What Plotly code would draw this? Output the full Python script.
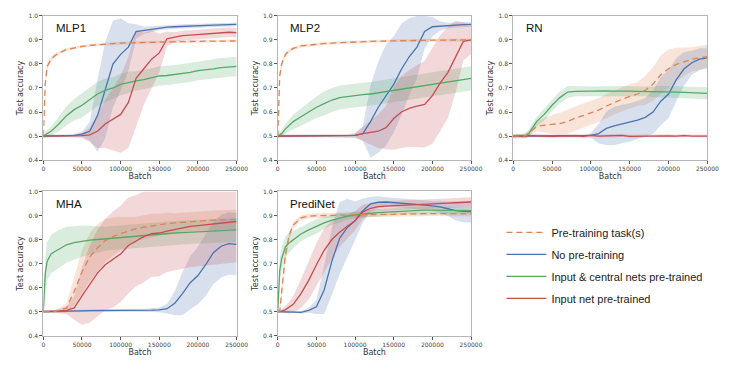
import plotly.graph_objects as go

# ---------------- data ----------------
batch = [0, 2500, 5000, 10000, 15000, 20000, 30000, 40000, 50000, 60000, 70000, 80000, 90000,
         100000, 110000, 120000, 130000, 140000, 150000, 160000, 170000, 180000, 190000, 200000,
         210000, 220000, 230000, 240000, 250000]

series_names = ["Pre-training task(s)", "No pre-training", "Input & central nets pre-trained", "Input net pre-trained"]
panel_names = ["MLP1", "MLP2", "RN", "MHA", "PrediNet"]
x_ticks = [0, 50000, 100000, 150000, 200000, 250000]
y_ticks = [0.4, 0.5, 0.6, 0.7, 0.8, 0.9, 1.0]

# MLP1
mlp1_pre = [0.50, 0.72, 0.79, 0.82, 0.835, 0.845, 0.86, 0.867, 0.873, 0.877, 0.88, 0.883, 0.885, 0.887, 0.888, 0.889, 0.89, 0.891, 0.892, 0.893, 0.893, 0.894, 0.894, 0.895, 0.895, 0.895, 0.896, 0.896, 0.896]
mlp1_pre_sd = [0.005, 0.02, 0.015, 0.01, 0.008, 0.007, 0.006, 0.006, 0.006, 0.006, 0.006, 0.006, 0.006, 0.006, 0.006, 0.006, 0.006, 0.006, 0.006, 0.006, 0.006, 0.006, 0.006, 0.006, 0.006, 0.006, 0.006, 0.006, 0.006]
mlp1_none = [0.50, 0.50, 0.50, 0.50, 0.50, 0.50, 0.50, 0.503, 0.508, 0.52, 0.585, 0.69, 0.80, 0.84, 0.87, 0.935, 0.94, 0.945, 0.95, 0.953, 0.955, 0.957, 0.958, 0.96, 0.961, 0.962, 0.963, 0.964, 0.965]
mlp1_none_sd = [0.005, 0.005, 0.005, 0.005, 0.005, 0.005, 0.005, 0.007, 0.01, 0.04, 0.15, 0.2, 0.18, 0.15, 0.1, 0.03, 0.015, 0.012, 0.01, 0.01, 0.008, 0.008, 0.008, 0.008, 0.008, 0.008, 0.008, 0.008, 0.008]
mlp1_central = [0.50, 0.505, 0.51, 0.52, 0.535, 0.55, 0.585, 0.61, 0.628, 0.65, 0.675, 0.69, 0.70, 0.715, 0.723, 0.73, 0.735, 0.742, 0.75, 0.752, 0.756, 0.76, 0.765, 0.772, 0.775, 0.78, 0.785, 0.787, 0.79]
mlp1_central_sd = [0.01, 0.012, 0.015, 0.02, 0.025, 0.03, 0.04, 0.045, 0.05, 0.05, 0.05, 0.05, 0.045, 0.045, 0.045, 0.04, 0.04, 0.04, 0.04, 0.04, 0.04, 0.04, 0.04, 0.04, 0.04, 0.04, 0.04, 0.04, 0.04]
mlp1_input = [0.50, 0.50, 0.50, 0.50, 0.50, 0.50, 0.50, 0.50, 0.502, 0.505, 0.52, 0.55, 0.57, 0.59, 0.64, 0.74, 0.78, 0.82, 0.846, 0.905, 0.912, 0.918, 0.92, 0.922, 0.925, 0.928, 0.93, 0.932, 0.93]
mlp1_input_sd = [0.005, 0.005, 0.005, 0.005, 0.005, 0.005, 0.005, 0.005, 0.01, 0.03, 0.07, 0.1, 0.13, 0.16, 0.19, 0.2, 0.15, 0.12, 0.08, 0.03, 0.02, 0.02, 0.02, 0.02, 0.02, 0.02, 0.02, 0.02, 0.02]

# MLP2
mlp2_pre = [0.50, 0.75, 0.80, 0.84, 0.855, 0.865, 0.875, 0.879, 0.882, 0.885, 0.887, 0.889, 0.89, 0.892, 0.893, 0.894, 0.895, 0.896, 0.897, 0.897, 0.898, 0.898, 0.899, 0.899, 0.899, 0.9, 0.9, 0.9, 0.9]
mlp2_pre_sd = [0.005, 0.02, 0.015, 0.01, 0.008, 0.007, 0.006, 0.006, 0.006, 0.006, 0.006, 0.006, 0.006, 0.006, 0.006, 0.006, 0.006, 0.006, 0.006, 0.006, 0.006, 0.006, 0.006, 0.006, 0.006, 0.006, 0.006, 0.006, 0.006]
mlp2_none = [0.50, 0.50, 0.50, 0.50, 0.50, 0.50, 0.50, 0.50, 0.50, 0.50, 0.50, 0.50, 0.50, 0.503, 0.51, 0.56, 0.62, 0.67, 0.715, 0.778, 0.83, 0.87, 0.935, 0.955, 0.958, 0.96, 0.962, 0.964, 0.965]
mlp2_none_sd = [0.005, 0.005, 0.005, 0.005, 0.005, 0.005, 0.005, 0.005, 0.005, 0.005, 0.005, 0.005, 0.005, 0.008, 0.03, 0.15, 0.19, 0.21, 0.2, 0.19, 0.16, 0.13, 0.07, 0.04, 0.02, 0.012, 0.01, 0.01, 0.01]
mlp2_central = [0.50, 0.505, 0.51, 0.53, 0.545, 0.56, 0.58, 0.60, 0.62, 0.635, 0.65, 0.66, 0.665, 0.67, 0.672, 0.675, 0.68, 0.685, 0.69, 0.695, 0.70, 0.705, 0.71, 0.715, 0.72, 0.725, 0.73, 0.735, 0.74]
mlp2_central_sd = [0.01, 0.012, 0.015, 0.02, 0.025, 0.03, 0.035, 0.04, 0.045, 0.05, 0.05, 0.05, 0.05, 0.05, 0.05, 0.05, 0.05, 0.05, 0.05, 0.05, 0.05, 0.05, 0.05, 0.05, 0.05, 0.05, 0.05, 0.05, 0.05]
mlp2_input = [0.50, 0.50, 0.50, 0.50, 0.50, 0.50, 0.50, 0.50, 0.50, 0.50, 0.50, 0.50, 0.50, 0.503, 0.51, 0.515, 0.52, 0.535, 0.573, 0.6, 0.615, 0.625, 0.632, 0.668, 0.72, 0.764, 0.83, 0.894, 0.9]
mlp2_input_sd = [0.005, 0.005, 0.005, 0.005, 0.005, 0.005, 0.005, 0.005, 0.005, 0.005, 0.005, 0.005, 0.007, 0.01, 0.03, 0.05, 0.07, 0.09, 0.13, 0.15, 0.16, 0.17, 0.18, 0.2, 0.2, 0.19, 0.15, 0.08, 0.06]

# RN
rn_pre = [0.5, 0.5, 0.5, 0.5, 0.5, 0.51, 0.54, 0.545, 0.548, 0.552, 0.56, 0.575, 0.585, 0.597, 0.608, 0.625, 0.64, 0.653, 0.665, 0.675, 0.69, 0.716, 0.755, 0.78, 0.798, 0.81, 0.82, 0.826, 0.83]
rn_pre_sd = [0.005, 0.005, 0.005, 0.005, 0.008, 0.01, 0.02, 0.03, 0.04, 0.045, 0.05, 0.05, 0.05, 0.05, 0.05, 0.05, 0.05, 0.05, 0.05, 0.05, 0.06, 0.07, 0.08, 0.08, 0.07, 0.06, 0.05, 0.05, 0.05]
rn_none = [0.5, 0.5, 0.5, 0.5, 0.5, 0.5, 0.5, 0.5, 0.5, 0.5, 0.5, 0.5, 0.5, 0.503, 0.51, 0.532, 0.542, 0.55, 0.556, 0.566, 0.578, 0.6, 0.645, 0.675, 0.735, 0.78, 0.805, 0.82, 0.825]
rn_none_sd = [0.005, 0.005, 0.005, 0.005, 0.005, 0.005, 0.005, 0.005, 0.005, 0.005, 0.005, 0.005, 0.005, 0.01, 0.04, 0.07, 0.08, 0.08, 0.08, 0.08, 0.08, 0.09, 0.1, 0.1, 0.09, 0.07, 0.05, 0.045, 0.04]
rn_central = [0.5, 0.5, 0.5, 0.5, 0.502, 0.51, 0.56, 0.59, 0.628, 0.66, 0.683, 0.686, 0.687, 0.686, 0.687, 0.688, 0.687, 0.688, 0.687, 0.686, 0.686, 0.684, 0.684, 0.683, 0.683, 0.682, 0.68, 0.679, 0.678]
rn_central_sd = [0.01, 0.01, 0.01, 0.01, 0.012, 0.015, 0.02, 0.025, 0.025, 0.025, 0.025, 0.02, 0.02, 0.02, 0.02, 0.02, 0.02, 0.02, 0.02, 0.02, 0.02, 0.022, 0.025, 0.025, 0.025, 0.025, 0.025, 0.025, 0.025]
rn_input = [0.5, 0.498, 0.501, 0.5, 0.499, 0.502, 0.5, 0.501, 0.499, 0.5, 0.502, 0.501, 0.499, 0.503, 0.5, 0.501, 0.5, 0.503, 0.499, 0.5, 0.501, 0.502, 0.5, 0.501, 0.5, 0.502, 0.5, 0.501, 0.5]
rn_input_sd = [0.006, 0.006, 0.006, 0.006, 0.006, 0.006, 0.006, 0.006, 0.006, 0.006, 0.006, 0.006, 0.006, 0.006, 0.006, 0.006, 0.006, 0.006, 0.006, 0.006, 0.006, 0.006, 0.006, 0.006, 0.006, 0.006, 0.006, 0.006, 0.006]

# MHA
mha_pre = [0.5, 0.5, 0.5, 0.5, 0.5, 0.505, 0.515, 0.585, 0.665, 0.727, 0.765, 0.795, 0.812, 0.825, 0.836, 0.845, 0.851, 0.857, 0.862, 0.866, 0.869, 0.872, 0.875, 0.877, 0.879, 0.881, 0.882, 0.883, 0.884]
mha_pre_sd = [0.005, 0.005, 0.005, 0.005, 0.005, 0.008, 0.02, 0.06, 0.09, 0.1, 0.1, 0.09, 0.08, 0.07, 0.06, 0.05, 0.05, 0.05, 0.045, 0.045, 0.04, 0.04, 0.04, 0.04, 0.04, 0.04, 0.04, 0.04, 0.04]
mha_none = [0.5, 0.5, 0.5, 0.5, 0.5, 0.5, 0.502, 0.503, 0.503, 0.504, 0.504, 0.504, 0.503, 0.504, 0.505, 0.505, 0.505, 0.506, 0.507, 0.512, 0.535, 0.575, 0.62, 0.65, 0.695, 0.745, 0.772, 0.783, 0.78]
mha_none_sd = [0.005, 0.005, 0.005, 0.005, 0.005, 0.005, 0.005, 0.005, 0.005, 0.005, 0.005, 0.005, 0.005, 0.005, 0.005, 0.005, 0.006, 0.008, 0.01, 0.02, 0.05, 0.09, 0.11, 0.12, 0.13, 0.13, 0.13, 0.13, 0.13]
mha_central = [0.5, 0.66, 0.71, 0.74, 0.75, 0.76, 0.778, 0.787, 0.793, 0.797, 0.8, 0.803, 0.806, 0.809, 0.812, 0.815, 0.818, 0.821, 0.823, 0.825, 0.827, 0.829, 0.831, 0.833, 0.834, 0.836, 0.837, 0.839, 0.84]
mha_central_sd = [0.01, 0.07, 0.08, 0.08, 0.08, 0.08, 0.075, 0.07, 0.065, 0.06, 0.055, 0.05, 0.05, 0.05, 0.05, 0.05, 0.05, 0.05, 0.05, 0.05, 0.05, 0.05, 0.05, 0.05, 0.05, 0.05, 0.05, 0.05, 0.05]
mha_input = [0.5, 0.5, 0.5, 0.5, 0.5, 0.502, 0.505, 0.515, 0.565, 0.615, 0.66, 0.695, 0.717, 0.74, 0.775, 0.795, 0.812, 0.824, 0.827, 0.835, 0.842, 0.848, 0.855, 0.858, 0.861, 0.865, 0.868, 0.872, 0.875]
mha_input_sd = [0.005, 0.005, 0.005, 0.005, 0.005, 0.008, 0.015, 0.05, 0.12, 0.16, 0.18, 0.19, 0.2, 0.2, 0.2, 0.19, 0.19, 0.18, 0.18, 0.17, 0.17, 0.17, 0.17, 0.17, 0.17, 0.17, 0.17, 0.17, 0.17]

# PrediNet
pred_pre = [0.5, 0.5, 0.58, 0.74, 0.82, 0.86, 0.89, 0.897, 0.899, 0.9, 0.901, 0.902, 0.902, 0.903, 0.903, 0.904, 0.904, 0.905, 0.905, 0.906, 0.906, 0.907, 0.907, 0.908, 0.908, 0.908, 0.907, 0.907, 0.906]
pred_pre_sd = [0.005, 0.005, 0.03, 0.03, 0.02, 0.015, 0.01, 0.01, 0.01, 0.01, 0.01, 0.01, 0.01, 0.01, 0.01, 0.01, 0.01, 0.01, 0.01, 0.01, 0.01, 0.01, 0.01, 0.01, 0.01, 0.01, 0.01, 0.01, 0.01]
pred_none = [0.5, 0.5, 0.5, 0.5, 0.498, 0.5, 0.497, 0.505, 0.52, 0.59, 0.71, 0.805, 0.85, 0.878, 0.92, 0.948, 0.955, 0.956, 0.954, 0.952, 0.95, 0.947, 0.943, 0.94, 0.936, 0.928, 0.92, 0.917, 0.916]
pred_none_sd = [0.005, 0.005, 0.005, 0.005, 0.005, 0.005, 0.005, 0.01, 0.03, 0.1, 0.14, 0.15, 0.12, 0.08, 0.05, 0.03, 0.025, 0.02, 0.02, 0.02, 0.02, 0.02, 0.02, 0.02, 0.025, 0.03, 0.04, 0.045, 0.045]
pred_central = [0.5, 0.67, 0.72, 0.77, 0.787, 0.8, 0.823, 0.84, 0.855, 0.869, 0.881, 0.89, 0.897, 0.902, 0.906, 0.909, 0.912, 0.914, 0.916, 0.918, 0.919, 0.92, 0.922, 0.922, 0.922, 0.921, 0.921, 0.92, 0.92]
pred_central_sd = [0.01, 0.05, 0.05, 0.045, 0.04, 0.035, 0.03, 0.03, 0.03, 0.025, 0.02, 0.02, 0.015, 0.015, 0.015, 0.015, 0.015, 0.015, 0.015, 0.015, 0.015, 0.015, 0.015, 0.015, 0.015, 0.015, 0.015, 0.015, 0.015]
pred_input = [0.5, 0.5, 0.502, 0.508, 0.518, 0.53, 0.575, 0.63, 0.695, 0.755, 0.8, 0.83, 0.855, 0.878, 0.915, 0.93, 0.937, 0.94, 0.941, 0.942, 0.943, 0.945, 0.947, 0.948, 0.95, 0.951, 0.953, 0.955, 0.956]
pred_input_sd = [0.005, 0.005, 0.008, 0.015, 0.025, 0.035, 0.06, 0.08, 0.09, 0.09, 0.08, 0.06, 0.05, 0.04, 0.03, 0.02, 0.02, 0.02, 0.02, 0.02, 0.02, 0.02, 0.02, 0.02, 0.02, 0.02, 0.02, 0.02, 0.02]

panel_series = [
    [(mlp1_pre, mlp1_pre_sd), (mlp1_none, mlp1_none_sd), (mlp1_central, mlp1_central_sd), (mlp1_input, mlp1_input_sd)],
    [(mlp2_pre, mlp2_pre_sd), (mlp2_none, mlp2_none_sd), (mlp2_central, mlp2_central_sd), (mlp2_input, mlp2_input_sd)],
    [(rn_pre, rn_pre_sd), (rn_none, rn_none_sd), (rn_central, rn_central_sd), (rn_input, rn_input_sd)],
    [(mha_pre, mha_pre_sd), (mha_none, mha_none_sd), (mha_central, mha_central_sd), (mha_input, mha_input_sd)],
    [(pred_pre, pred_pre_sd), (pred_none, pred_none_sd), (pred_central, pred_central_sd), (pred_input, pred_input_sd)],
]

# ---------------- styling ----------------
OFF = 8                      # page body margin of the html page
W, H = 740 - OFF, 369 - OFF
line_colors = ["#dd8452", "#4c72b0", "#55a868", "#c44e52"]
band_colors = ["rgba(221,132,82,0.22)", "rgba(76,114,176,0.22)", "rgba(85,168,104,0.22)", "rgba(196,78,82,0.22)"]
dashes = ["6px,4px", "solid", "solid", "solid"]

# pixel boxes of the five panels in the page (left, right, top, bottom)
boxes = [(42, 239, 12, 159), (281, 478, 12, 159), (521, 719, 12, 159),
         (42, 239, 191, 338), (281, 478, 191, 338)]


def px_x(v):
    return (v - OFF) / W


def px_y(v):
    return 1 - (v - OFF) / H


fig = go.Figure()
layout = dict(width=W, height=H, margin=dict(l=0, r=0, t=0, b=0),
              paper_bgcolor="white", plot_bgcolor="white", annotations=[])

axis_font = dict(family="DejaVu Sans", size=6, color="#444")
title_font = dict(family="DejaVu Sans", size=8, color="#333")

for p, name in enumerate(panel_names):
    k = p + 1
    xa, ya = ("x" if k == 1 else f"x{k}"), ("y" if k == 1 else f"y{k}")
    for s in range(4):
        m, sd = panel_series[p][s]
        up = [min(1.0, a + b) for a, b in zip(m, sd)]
        lo = [max(0.4, a - b) for a, b in zip(m, sd)]
        fig.add_trace(go.Scatter(x=batch + batch[::-1], y=up + lo[::-1], fill="toself",
                                 fillcolor=band_colors[s], line=dict(width=0), mode="lines",
                                 hoverinfo="skip", showlegend=False, xaxis=xa, yaxis=ya))
    for s in [1, 2, 3, 0]:
        m, sd = panel_series[p][s]
        fig.add_trace(go.Scatter(x=batch, y=m, mode="lines", name=series_names[s],
                                 line=dict(color=line_colors[s], width=1.3, dash=dashes[s]),
                                 legendgroup=series_names[s], legendrank=s + 1,
                                 showlegend=(p == 0), xaxis=xa, yaxis=ya))
    l, r, t, b = boxes[p]
    common = dict(showline=True, mirror=True, linecolor="#b5b5b5", linewidth=1,
                  ticks="outside", ticklen=3, tickcolor="#555", tickwidth=1,
                  showgrid=False, zeroline=False, tickfont=axis_font)
    layout["xaxis" if k == 1 else f"xaxis{k}"] = dict(
        domain=[px_x(l), px_x(r)], anchor=ya, range=[0, 250000], tickvals=x_ticks,
        ticktext=[str(v) for v in x_ticks],
        title=dict(text="Batch", font=title_font, standoff=1), **common)
    layout["yaxis" if k == 1 else f"yaxis{k}"] = dict(
        domain=[px_y(b), px_y(t)], anchor=xa, range=[0.4, 1.0], tickvals=y_ticks,
        ticktext=[f"{v:.1f}" for v in y_ticks],
        title=dict(text="Test accuracy", font=title_font, standoff=3), **common)
    layout["annotations"].append(dict(
        text=name, xref=f"{xa} domain", yref=f"{ya} domain", x=0.055, y=0.915,
        xanchor="left", yanchor="middle", showarrow=False,
        font=dict(family="Liberation Sans", size=11.5, color="#111")))

layout["legend"] = dict(x=px_x(509), y=px_y(218), xanchor="left", yanchor="top",
                        font=dict(family="Liberation Sans", size=11, color="#222"),
                        bgcolor="rgba(0,0,0,0)", tracegroupgap=3, itemwidth=40)

fig.update_layout(**layout)
fig.write_html("out.html")
